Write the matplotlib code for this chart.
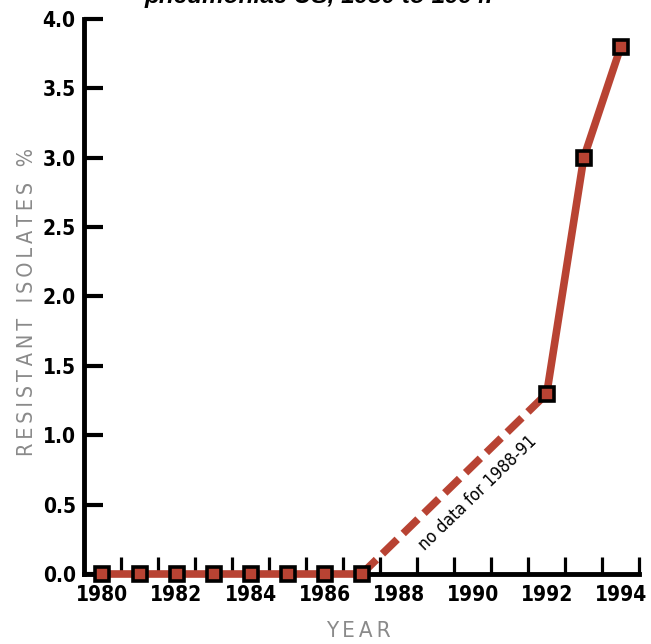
import matplotlib
matplotlib.use('Agg')
import matplotlib.pyplot as plt
from matplotlib.ticker import MultipleLocator, FixedLocator

# data
years_early = [1980, 1981, 1982, 1983, 1984, 1985, 1986, 1987]
vals_early = [0, 0, 0, 0, 0, 0, 0, 0]
years_late = [1992, 1993, 1994]
vals_late = [1.3, 3.0, 3.8]
gap_years = [1987, 1992]
gap_vals = [0, 1.3]
xtick_years = [1980, 1982, 1984, 1986, 1988, 1990, 1992, 1994]

plt.rcParams['font.family'] = ['DejaVu Sans']
plt.rcParams['font.stretch'] = 'condensed'

red = '#b84333'
grey = '#8a8a8a'
thin = '\u2009'

fig = plt.figure(figsize=(6.51, 6.44), dpi=100)
ax = fig.add_axes([0.129, 0.1087, 0.853, 0.8618])

# dashed bridge over the missing years
ax.plot(gap_years, gap_vals, color=red, lw=5.5, dashes=(2.7, 1.1), solid_capstyle='butt', zorder=3, clip_on=False)
for xs, ys in [(years_early, vals_early), (years_late, vals_late)]:
    ax.plot(xs, ys, color=red, lw=5.5, zorder=3, clip_on=False)
    ax.plot(xs, ys, ls='none', marker='s', ms=9.5, mfc=red, mec='black', mew=2.6, zorder=4, clip_on=False)

ax.set_xlim(1979.5, 1994.5)
ax.set_ylim(0, 4)

for s in ['top', 'right']:
    ax.spines[s].set_visible(False)
for s in ['left', 'bottom']:
    ax.spines[s].set_linewidth(3.5)
    ax.spines[s].set_zorder(2)

ax.xaxis.set_major_locator(FixedLocator(xtick_years))
ax.xaxis.set_minor_locator(FixedLocator([y + 0.5 for y in range(1980, 1995)]))
ax.tick_params(axis='x', which='major', length=0, pad=8, labelsize=15)
ax.tick_params(axis='x', which='minor', direction='in', length=12, width=2.3)
ax.yaxis.set_major_locator(MultipleLocator(0.5))
ax.tick_params(axis='y', direction='in', length=14, width=3, pad=6, labelsize=15)
ax.set_yticklabels(['%.1f' % v for v in ax.get_yticks()])
for lab in ax.get_xticklabels() + ax.get_yticklabels():
    lab.set_fontweight('bold')

def spaced(word):
    return thin.join(word)

fig.text(358 / 651, 1 - 631 / 644, spaced('YEAR'), fontsize=16, color=grey, ha='center', va='center')
ylab = (thin * 4).join([spaced('RESISTANT'), spaced('ISOLATES'), '%'])
fig.text(27 / 651, 1 - 302 / 644, ylab, fontsize=15.5, color=grey, ha='center', va='center', rotation=90)

ax.text(1990.14, 0.58, 'no data for 1988-91', rotation=44, fontsize=12.5, ha='center', va='center',
        rotation_mode='anchor')

# title sits mostly above the canvas, as in the original crop
fig.text(0.49, 1 - 3 / 644, 'pneumoniae US, 1980 to 1994.', fontsize=17.5, fontweight='bold', fontstyle='italic',
         ha='center', va='baseline', family=['Liberation Sans', 'DejaVu Sans'], fontstretch='normal')

fig.savefig('out.png', dpi=100)
